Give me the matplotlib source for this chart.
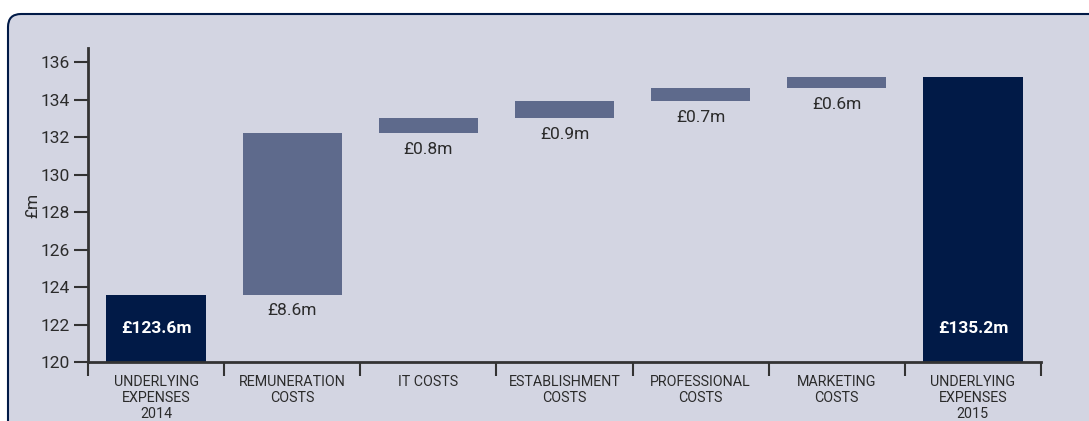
import matplotlib
matplotlib.use("Agg")
import matplotlib.pyplot as plt
from matplotlib.patches import FancyBboxPatch

categories = ["UNDERLYING\nEXPENSES\n2014", "REMUNERATION\nCOSTS", "IT COSTS",
              "ESTABLISHMENT\nCOSTS", "PROFESSIONAL\nCOSTS", "MARKETING\nCOSTS",
              "UNDERLYING\nEXPENSES\n2015"]
start_total = 123.6
increments = [8.6, 0.8, 0.9, 0.7, 0.6]
end_total = 135.2
inc_labels = ["£8.6m", "£0.8m", "£0.9m", "£0.7m", "£0.6m"]
total_labels = ["£123.6m", "£135.2m"]
yticks = [120, 122, 124, 126, 128, 130, 132, 134, 136]

NAVY = "#011a47"
MID = "#5e6a8c"
BG = "#d3d5e2"
TXT = "#2b2b2b"

plt.rcParams['font.family'] = ['Roboto', 'DejaVu Sans']

fig = plt.figure(figsize=(10.89, 4.21), dpi=100)
fig.patch.set_facecolor("white")
W, H = 1089, 421
panel = FancyBboxPatch((8 / W, -0.2), 1.2, (421 - 14) / H + 0.2,
                       boxstyle="round,pad=0,rounding_size=0.012",
                       transform=fig.transFigure, facecolor=BG,
                       edgecolor=NAVY, linewidth=1.5, mutation_aspect=W / H,
                       zorder=-10)
fig.patches.append(panel)

ax = fig.add_axes([88 / W, 1 - 362 / H, (1041 - 88) / W, (362 - 48) / H])
ax.set_facecolor("none")
ax.set_zorder(5)

ymin = 120
bw = 0.73
ax.bar(0, start_total - ymin, bottom=ymin, width=bw, color=NAVY)
ax.bar(6, end_total - ymin, bottom=ymin, width=bw, color=NAVY)
cum = start_total
for i, inc in enumerate(increments):
    x = i + 1
    ax.bar(x, inc, bottom=cum, width=bw, color=MID)
    ax.annotate(inc_labels[i], (x, cum), xytext=(0, -6), textcoords="offset points",
                ha="center", va="top", fontsize=12.5, color=TXT)
    cum += inc

for x, lab in zip([0, 6], total_labels):
    ax.text(x, 121.8, lab, ha="center", va="center", fontsize=12.5,
            fontweight="bold", color="white")

ax.set_xlim(-0.5, 6.5)
ax.set_ylim(120, 136.75)
ax.set_yticks(yticks)
ax.set_yticklabels([str(t) for t in yticks], fontsize=12.5, color=TXT)
ax.set_xticks(range(7))
ax.set_xticklabels(categories, fontsize=10.3, color=TXT, linespacing=1.22)
ax.tick_params(axis="x", length=0, pad=9)
ax.set_xticks([i - 0.5 for i in range(8)], minor=True)
ax.tick_params(axis="x", which="minor", length=10, width=1.5, color="#333333", direction="out")
ax.tick_params(axis="y", length=10, width=1.5, color="#333333", direction="out", pad=3)

for s in ["top", "right"]:
    ax.spines[s].set_visible(False)
for s in ["left", "bottom"]:
    ax.spines[s].set_linewidth(2)
    ax.spines[s].set_color("#333333")

ax.set_ylabel("£m", fontsize=12.5, color=TXT, labelpad=0)

fig.savefig("out.png", dpi=100, facecolor="white")
